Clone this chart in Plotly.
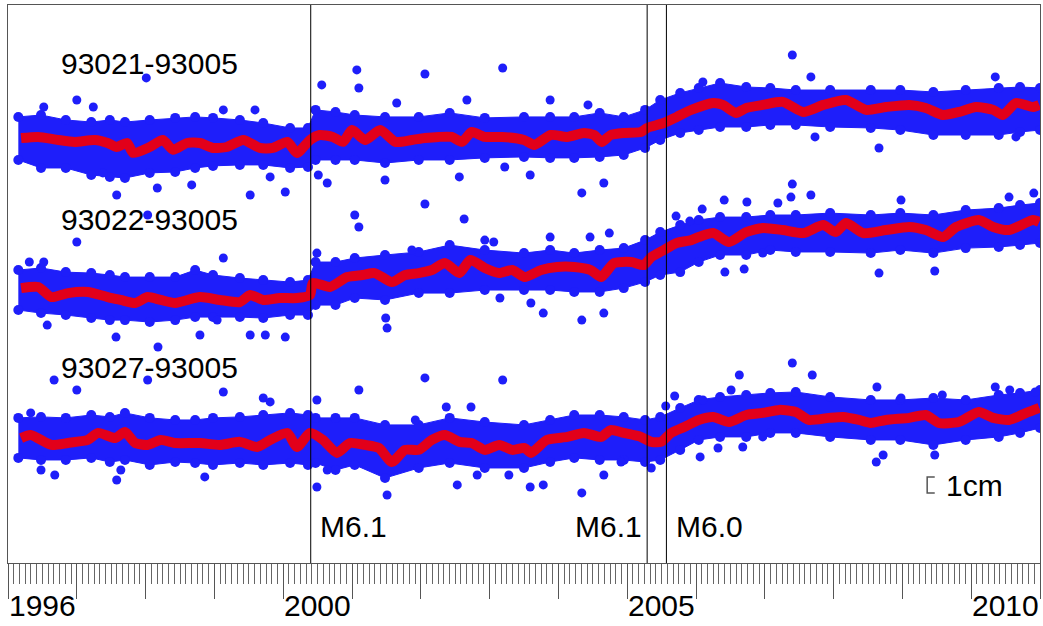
import plotly.graph_objects as go

# ---------------- data (displacements in mm, time in decimal years) ----------------
station_pairs = ["93021-93005", "93022-93005", "93027-93005"]

# smoothed series (red)
t1 = [1996.19, 1996.44, 1996.73, 1996.97, 1997.26, 1997.45, 1997.58, 1997.73, 1997.82, 1998.06,
      1998.25, 1998.40, 1998.60, 1998.79, 1998.98, 1999.18, 1999.42, 1999.66, 1999.85, 2000.06,
      2000.20, 2000.39, 2000.53, 2000.72, 2000.87, 2001.00, 2001.19, 2001.41, 2001.63, 2001.87,
      2002.06, 2002.26, 2002.45, 2002.60, 2002.74, 2002.93, 2003.18, 2003.50, 2003.65, 2003.89,
      2004.13, 2004.37, 2004.52, 2004.63, 2004.76, 2004.95, 2005.20, 2005.29, 2005.53, 2005.72,
      2005.93, 2006.25, 2006.39, 2006.58, 2006.73, 2006.97, 2007.26, 2007.56, 2007.85, 2008.18,
      2008.47, 2008.76, 2009.10, 2009.34, 2009.59, 2009.82, 2010.07, 2010.32, 2010.46, 2010.65,
      2010.90, 2010.99]
smooth1 = [1.2, 1.9, 0.0, -1.2, 0.0, -1.9, -4.4, -1.9, -8.1, -4.4,
           0.0, -6.2, -1.9, -1.9, -5.0, -4.4, 0.0, -5.0, -5.0, -1.2,
           -8.1, 0.0, 3.1, 1.9, -1.2, 6.2, 0.0, 6.2, -1.2, 0.0,
           1.2, 1.9, 1.9, -1.2, 5.0, 1.9, 1.9, 0.0, -3.1, 3.1,
           1.9, 4.4, 3.1, -1.2, 3.1, 4.4, 5.0, 7.5, 10.6, 14.4,
           18.8, 23.1, 21.9, 16.9, 20.0, 21.9, 23.8, 17.5, 21.9, 25.0,
           18.8, 20.6, 21.9, 20.0, 15.6, 17.5, 20.6, 18.8, 15.6, 23.1,
           20.6, 21.9]

t2 = [1996.19, 1996.44, 1996.63, 1996.87, 1997.16, 1997.45, 1997.64, 1997.85, 1998.03, 1998.22,
      1998.43, 1998.79, 1999.08, 1999.37, 1999.52, 1999.71, 1999.95, 2000.20, 2000.39, 2000.43,
      2000.68, 2000.93, 2001.15, 2001.33, 2001.58, 2001.77, 2001.97, 2002.16, 2002.35, 2002.56,
      2002.72, 2002.93, 2003.14, 2003.33, 2003.51, 2003.75, 2003.98, 2004.23, 2004.47, 2004.62,
      2004.81, 2005.06, 2005.24, 2005.35, 2005.53, 2005.72, 2005.93, 2006.04, 2006.25, 2006.48,
      2006.73, 2006.97, 2007.26, 2007.56, 2007.85, 2008.03, 2008.18, 2008.43, 2008.76, 2009.10,
      2009.34, 2009.59, 2009.78, 2010.11, 2010.32, 2010.55, 2010.90, 2010.99]
smooth2 = [1.2, 1.9, -4.4, -1.9, -1.2, -4.4, -6.2, -8.1, -4.4, -6.2,
           -8.1, -4.4, -6.2, -7.5, -3.1, -6.2, -5.0, -5.0, -3.1, 4.4,
           1.9, 8.1, 9.4, 10.6, 5.0, 9.4, 10.6, 12.5, 16.9, 10.6,
           18.8, 13.8, 10.6, 12.5, 8.1, 12.5, 14.4, 14.4, 12.5, 8.1,
           16.9, 17.5, 15.6, 20.6, 25.0, 29.4, 31.2, 33.1, 35.6, 30.0,
           36.2, 38.8, 37.5, 35.6, 40.6, 36.2, 41.9, 35.6, 37.5, 39.4,
           37.5, 33.1, 39.4, 43.8, 39.4, 37.5, 43.8, 42.5]

t3 = [1996.19, 1996.33, 1996.63, 1996.87, 1997.16, 1997.31, 1997.56, 1997.70, 1997.85, 1998.03,
      1998.22, 1998.43, 1998.79, 1999.08, 1999.37, 1999.62, 1999.81, 2000.06, 2000.20, 2000.39,
      2000.58, 2000.78, 2000.97, 2001.19, 2001.39, 2001.58, 2001.77, 2001.97, 2002.16, 2002.35,
      2002.56, 2002.74, 2002.93, 2003.14, 2003.33, 2003.51, 2003.60, 2003.83, 2004.13, 2004.37,
      2004.62, 2004.76, 2004.95, 2005.20, 2005.35, 2005.49, 2005.64, 2005.83, 2006.04, 2006.25,
      2006.48, 2006.73, 2006.97, 2007.21, 2007.45, 2007.64, 2007.93, 2008.14, 2008.37, 2008.54,
      2008.76, 2009.10, 2009.34, 2009.53, 2009.82, 2010.11, 2010.32, 2010.55, 2010.80, 2010.99]
smooth3 = [1.2, 3.1, -3.1, -1.9, 0.0, 4.4, 1.2, 5.0, -1.9, -3.1,
           0.0, -1.9, -1.9, -3.1, -1.2, -4.4, 0.0, 4.4, -4.4, 4.4,
           0.0, -8.1, -1.9, -3.1, -5.0, -13.8, -6.2, -6.2, 0.0, 3.1,
           -1.2, -1.9, -6.2, -3.1, -6.2, -5.0, -8.1, 0.0, 1.9, 4.4,
           1.9, 6.2, 4.4, 1.9, -1.2, -1.2, 4.4, 8.1, 12.5, 14.4,
           11.2, 15.6, 16.9, 18.8, 17.5, 12.5, 13.8, 14.4, 12.5, 10.6,
           12.5, 13.8, 15.6, 10.6, 11.2, 17.5, 13.8, 12.5, 16.9, 20.0]

# envelope of the dense daily solutions (blue)
t_env = [1996.15, 1996.48, 1996.84, 1997.21, 1997.48, 1997.70, 1998.06, 1998.43, 1998.72, 1998.98,
         1999.37, 1999.71, 2000.10, 2000.36, 2000.47, 2000.76, 2001.04, 2001.48, 2001.97, 2002.42,
         2002.93, 2003.50, 2003.88, 2004.23, 2004.60, 2004.95, 2005.26, 2005.48, 2005.77, 2006.04,
         2006.35, 2006.73, 2007.08, 2007.45, 2007.95, 2008.54, 2008.97, 2009.45, 2009.92, 2010.40,
         2010.71, 2011.00]
upper1 = [14.4, 15.6, 12.5, 11.2, 12.5, 11.2, 12.5, 13.8, 14.4, 13.8, 12.5, 10.6, 7.5, 7.5, 18.8,
          17.5, 15.6, 14.4, 14.4, 16.9, 13.8, 14.4, 14.4, 14.4, 16.9, 14.4, 18.8, 25.0, 29.4, 32.5,
          35.6, 33.1, 32.5, 31.2, 31.2, 31.2, 31.2, 30.0, 31.2, 32.5, 33.1, 32.5]
lower1 = [-12.5, -17.5, -17.5, -21.9, -23.1, -23.8, -20.6, -20.0, -17.5, -16.2, -15.6, -15.6, -17.5,
          -16.9, -12.5, -12.5, -12.5, -14.4, -12.5, -12.5, -11.2, -10.6, -11.2, -11.2, -10.6, -9.4,
          -5.0, 0.0, 4.4, 6.2, 8.1, 8.1, 9.4, 9.4, 8.1, 7.5, 6.2, 3.1, 3.1, 3.1, 5.0, 6.2]
upper2 = [12.5, 13.8, 11.2, 10.6, 9.4, 8.1, 8.1, 8.1, 12.5, 9.4, 7.5, 6.2, 5.0, 6.2, 17.5, 17.5,
          20.0, 21.9, 23.8, 28.1, 25.0, 23.1, 25.0, 23.1, 25.0, 26.2, 31.2, 36.2, 40.6, 43.8, 45.6,
          45.6, 46.9, 46.9, 48.1, 46.9, 48.1, 46.9, 50.0, 51.2, 53.1, 54.4]
lower2 = [-12.5, -14.4, -15.6, -17.5, -18.8, -18.8, -20.0, -18.8, -16.9, -16.9, -16.9, -17.5,
          -15.6, -15.6, -9.4, -9.4, -5.0, -6.2, -1.9, -1.9, 0.0, 0.0, 0.0, -1.2, -1.2, 1.2, 5.0,
          9.4, 11.2, 17.5, 21.9, 21.9, 25.0, 23.8, 23.8, 23.1, 25.0, 23.1, 26.2, 26.9, 28.1, 29.4]
upper3 = [13.8, 14.4, 13.8, 15.6, 14.4, 16.9, 13.8, 12.5, 12.5, 13.8, 14.4, 15.6, 16.9, 15.6,
          13.8, 13.8, 13.8, 9.4, 9.4, 13.8, 11.2, 9.4, 12.5, 15.6, 15.6, 14.4, 12.5, 14.4, 20.0,
          25.0, 26.9, 28.1, 29.4, 30.0, 26.9, 25.0, 25.0, 26.2, 25.0, 28.1, 29.4, 31.2]
lower3 = [-11.2, -12.5, -12.5, -11.2, -13.8, -12.5, -15.6, -13.8, -14.4, -15.6, -14.4, -15.6,
          -14.4, -15.6, -14.4, -18.8, -15.6, -23.8, -17.5, -14.4, -17.5, -17.5, -13.8, -11.2,
          -12.5, -12.5, -13.8, -12.5, -6.2, 0.0, 1.9, 1.9, 4.4, 4.4, 1.9, 0.0, 0.0, -3.1, 0.0,
          1.9, 4.4, 7.5]

# isolated daily solutions away from the dense band
out_t1 = [1998.01, 1997.00, 1996.52, 1997.24, 1999.13, 1999.59, 1997.58, 1998.17, 1999.52, 2000.03,
          1997.38, 1998.67, 1999.81, 2000.56, 2000.64, 2000.51, 2001.07, 2001.10, 2002.06, 2003.19,
          2001.65, 2002.67, 2001.48, 2002.56, 2003.22, 2003.88, 2004.34, 2004.66, 2003.59, 2004.43,
          2007.40, 2006.10, 2007.67, 2007.73, 2008.66, 2010.35, 2010.65]
out_v1 = [38.8, 25.0, 20.6, 20.6, 18.8, 18.8, -34.4, -30.0, -34.4, -32.5,
          -20.6, -28.1, -23.1, 34.4, -26.9, -21.9, 43.8, 32.5, 41.2, 45.0,
          23.1, 25.0, -25.0, -23.1, -16.9, 25.0, -33.1, -26.9, -21.9, 21.9,
          53.1, 36.2, 39.4, 1.9, -5.0, 39.4, 1.9]
out_t2 = [1997.00, 1998.03, 1996.31, 1996.52, 1997.57, 1998.18, 1996.57, 1999.13, 1998.79, 1999.52,
          1999.74, 2000.03, 1999.04, 2000.49, 2001.04, 2001.10, 2002.06, 2002.63, 2001.87, 2002.93,
          2003.06, 2001.49, 2001.51, 2003.15, 2003.88, 2004.74, 2004.46, 2003.78, 2004.34, 2004.66,
          2003.60, 2005.71, 2005.91, 2006.09, 2006.41, 2006.74, 2007.19, 2007.40, 2007.38, 2007.67,
          2006.42, 2006.70, 2006.97, 2008.98, 2010.91, 2008.66, 2009.47, 2010.55]
out_v2 = [30.0, 46.9, 17.5, 17.5, -29.4, -35.6, -21.9, 20.0, -28.1, -28.1,
          -28.1, -29.4, -18.8, 23.1, 46.9, 39.4, 53.8, 44.4, 25.0, 31.2,
          30.0, -17.5, -23.8, -5.0, 33.1, 35.6, 33.1, -14.4, -18.8, -14.4,
          -8.1, 46.2, 43.1, 50.6, 56.2, 55.0, 54.4, 66.2, 58.1, 59.4,
          11.2, 13.1, 23.1, 56.2, 60.6, 10.6, 11.9, 58.1]
out_t3 = [1997.00, 1996.67, 1998.03, 1996.33, 1997.58, 1997.64, 1996.48, 1996.68, 1999.13, 1999.71,
          1999.81, 2000.49, 2000.49, 2000.64, 1998.86, 2001.10, 2002.06, 2003.19, 2002.37, 2002.73,
          2001.92, 2001.51, 2002.53, 2002.82, 2003.28, 2005.69, 2005.56, 2003.78, 2004.34, 2004.66,
          2003.59, 2004.91, 2005.35, 2007.40, 2007.69, 2006.63, 2006.51, 2006.10, 2006.06, 2006.32,
          2006.68, 2006.97, 2008.63, 2008.98, 2009.58, 2010.35, 2010.56, 2010.93, 2008.62, 2008.72,
          2009.47]
out_v3 = [31.2, 37.5, 37.5, 16.9, -25.0, -18.8, -18.8, -21.9, 30.0, 26.2,
          23.8, 25.0, -29.4, -18.8, -23.1, 31.2, 38.8, 37.5, 20.6, 20.6,
          12.5, -34.4, -28.1, -21.9, -21.9, 27.5, 21.2, -28.1, -33.1, -21.9,
          -29.4, -13.8, -17.5, 48.1, 40.6, 40.6, 31.2, 25.0, -10.6, -5.0,
          -4.4, 1.9, 33.1, 26.2, 28.1, 33.1, 31.2, 30.0, -13.8, -9.4,
          -9.4]

# earthquakes
quake_times = [2000.40, 2005.29, 2005.57]
quake_labels = ["M6.1", "M6.1", "M6.0"]

# axis labels
year_label_pos = [1996.5, 2000.5, 2005.5, 2010.5]
year_labels = ["1996", "2000", "2005", "2010"]

# ---------------- style / layout ----------------
OFFSETS_CM = [26.44, 17.06, 7.69]      # vertical stacking of the three pairs
LABEL_Y_CM = [31.19, 21.44, 12.25]
BLUE = "#1e1efa"
RED = "#e2001a"
FONT = "Liberation Sans, Arial, sans-serif"

series = [
    (t1, smooth1, upper1, lower1, out_t1, out_v1),
    (t2, smooth2, upper2, lower2, out_t2, out_v2),
    (t3, smooth3, upper3, lower3, out_t3, out_v3),
]

fig = go.Figure()
for k, (t, sm, up, lo, ot, ov) in enumerate(series):
    off = OFFSETS_CM[k]
    up_y = [off + v / 10 for v in up]
    lo_y = [off + v / 10 for v in lo]
    # dense band
    fig.add_trace(go.Scatter(
        x=t_env + t_env[::-1], y=up_y + lo_y[::-1], mode="lines", fill="toself",
        fillcolor=BLUE, line=dict(color=BLUE, width=1),
        hoverinfo="skip", showlegend=False))
    # dotted edges of the band
    fig.add_trace(go.Scatter(
        x=t_env + t_env, y=up_y + lo_y, mode="markers",
        marker=dict(color=BLUE, size=10), hoverinfo="skip", showlegend=False))
    # isolated daily solutions
    fig.add_trace(go.Scatter(
        x=ot, y=[off + v / 10 for v in ov], mode="markers",
        marker=dict(color=BLUE, size=9), showlegend=False))
    # smoothed series
    fig.add_trace(go.Scatter(
        x=t, y=[off + v / 10 for v in sm], mode="lines",
        line=dict(color=RED, width=10, shape="spline", smoothing=0.6),
        showlegend=False))

annotations = []
for k, name in enumerate(station_pairs):
    annotations.append(dict(x=1996.74, y=LABEL_Y_CM[k], xref="x", yref="y", text=name,
                            showarrow=False, xanchor="left", yanchor="middle",
                            font=dict(family=FONT, size=30, color="black")))

shapes = []
anchors = ["left", "right", "left"]
shifts = [7, -3, 8]
for q, lab, anc, sh in zip(quake_times, quake_labels, anchors, shifts):
    shapes.append(dict(type="line", xref="x", yref="paper", x0=q, x1=q, y0=0, y1=1,
                       line=dict(color="black", width=1)))
    annotations.append(dict(x=q, y=2.31, xref="x", yref="y", text=lab, showarrow=False,
                            xanchor=anc, yanchor="middle", xshift=sh,
                            font=dict(family=FONT, size=30, color="black")))

# 1 cm scale bar
sb_x0, sb_x1, sb_y0 = 2009.36, 2009.47, 4.375
shapes.append(dict(type="path", xref="x", yref="y",
                   path=f"M {sb_x1} {sb_y0} L {sb_x0} {sb_y0} L {sb_x0} {sb_y0 + 1} L {sb_x1} {sb_y0 + 1}",
                   line=dict(color="#555555", width=1.5)))
annotations.append(dict(x=2009.60, y=sb_y0 + 0.5, xref="x", yref="y", text="1cm", showarrow=False,
                        xanchor="left", yanchor="middle",
                        font=dict(family=FONT, size=30, color="black")))

for xp, lab in zip(year_label_pos, year_labels):
    annotations.append(dict(x=xp, y=0, xref="x", yref="paper", text=lab, showarrow=False,
                            xanchor="center", yanchor="middle", yshift=-42,
                            font=dict(family=FONT, size=30, color="black")))

fig.update_layout(
    width=1043, height=626,
    margin=dict(l=8, r=3, t=5, b=63),
    paper_bgcolor="white", plot_bgcolor="white",
    showlegend=False,
    shapes=shapes, annotations=annotations,
    xaxis=dict(range=[1996, 2011], showgrid=False, zeroline=False,
               showline=True, mirror=True, linecolor="#555555", linewidth=1,
               ticks="outside", tick0=1996, dtick=1, ticklen=35, tickwidth=1,
               tickcolor="#555555", showticklabels=False,
               minor=dict(ticks="outside", tick0=1996, dtick=1 / 12, ticklen=20,
                          tickwidth=1, tickcolor="#666666", showgrid=False)),
    yaxis=dict(range=[0, 34.875], showgrid=False, zeroline=False,
               showline=True, mirror=True, linecolor="#555555", linewidth=1,
               ticks="", showticklabels=False),
)

fig.write_html("out.html")
